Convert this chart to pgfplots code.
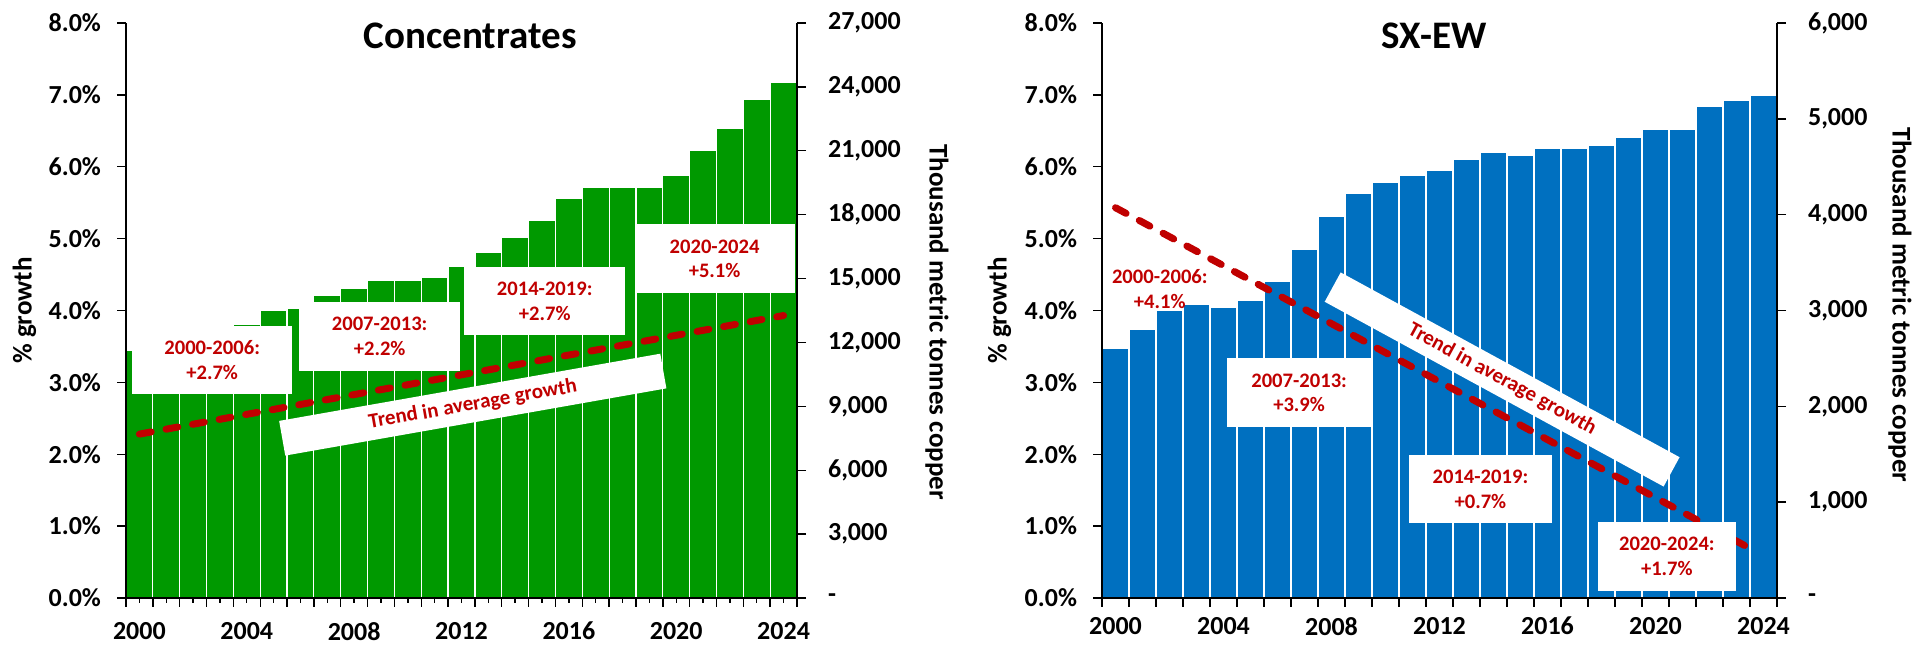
\documentclass[border=0pt]{standalone}
\usepackage{fontspec}
\setmainfont{Carlito}
\usepackage{pgfplots}
\pgfplotsset{compat=1.18}
\definecolor{cgreen}{HTML}{009900}
\definecolor{cblue}{HTML}{0070C0}
\definecolor{cred}{HTML}{C00000}
\newcommand{\tickfont}{\bfseries\fontsize{13}{13}\selectfont}
\newcommand{\labfont}{\bfseries\fontsize{13.5}{13.5}\selectfont}
\newcommand{\boxfont}{\bfseries\fontsize{10.3}{12.4}\selectfont}
\pgfplotsset{
  base/.style={
    scale only axis, height=287.5pt, anchor=south west,
    xmin=1999.5, xmax=2024.5,
    /pgf/number format/assume math mode=true,
    scaled y ticks=false, scaled x ticks=false,
    tick align=outside,
    axis line style={line width=0.7pt, black},
    every tick/.style={black, line width=0.7pt},
    ticklabel style={font=\tickfont},
    label style={font=\labfont},
    major tick length=4.5pt,
  },
  baraxis/.style={
    axis y line*=right, axis x line*=bottom, axis on top,
    ybar, bar width=1, ymin=0,
    xtick={1999.5,2000.5,...,2024.5}, xticklabels={},
    extra x ticks={2000,2001,...,2024},
    extra x tick labels={2000,,,,2004,,,,2008,,,,2012,,,,2016,,,,2020,,,,2024},
    extra x tick style={major tick length=#1, xticklabel style={yshift=-6pt}},
    yticklabel style={xshift=7.5pt},
  },
  pctaxis/.style={
    axis y line*=left, axis x line=none, clip=false,
    ymin=0, ymax=8, ytick={0,1,...,8},
    yticklabel={\pgfmathprintnumber[fixed,fixed zerofill,precision=1]{\tick}\%},
    yticklabel style={xshift=-4.5pt},
    ylabel={\% growth},
  },
  trend/.style={cred, line width=3.5pt, dash pattern=on 6pt off 7.5pt, line cap=round},
}
\begin{document}
\begin{tikzpicture}
\useasboundingbox (0,0) rectangle (956pt,323pt);
% ---------------- Concentrates ----------------
\begin{axis}[base, baraxis=2.5pt, at={(63pt,24pt)}, width=335.5pt,
  ymax=27000, ytick={0,3000,...,27000},
  yticklabels={{-},{3,000},{6,000},{9,000},{12,000},{15,000},{18,000},{21,000},{24,000},{27,000}},
  ylabel={Thousand metric tonnes copper},
  every axis y label/.style={at={(axis description cs:1.2085,0.48)}, rotate=-90, anchor=center, font=\labfont}]
\addplot[fill=cgreen, draw=white, line width=0.6pt] coordinates {
(2000,11620) (2001,11900) (2002,12100) (2003,12400) (2004,12840)
(2005,13515) (2006,13610) (2007,14220) (2008,14535) (2009,14910)
(2010,14910) (2011,15035) (2012,15550) (2013,16210) (2014,16920)
(2015,17730) (2016,18750) (2017,19270) (2018,19300) (2019,19300)
(2020,19865) (2021,21040) (2022,22045) (2023,23420) (2024,24205)};
\end{axis}
\begin{axis}[base, pctaxis, at={(63pt,24pt)}, width=335.5pt,
  every axis y label/.style={at={(axis description cs:-0.1513,0.5)}, rotate=90, anchor=center, font=\labfont}]
\addplot[trend] coordinates {(2000,2.28) (2024,3.93)};
\node[font=\bfseries\fontsize{19.5}{19.5}\selectfont, anchor=base] at (axis description cs:0.513,0.955) {Concentrates};
\node[fill=white, text=cred, font=\boxfont, align=center, minimum width=80pt, minimum height=34pt, inner sep=0pt] at (axis cs:2002.71,3.305) {2000-2006:\\+2.7\%};
\node[fill=white, text=cred, font=\boxfont, align=center, minimum width=80.5pt, minimum height=34.5pt, inner sep=0pt] at (axis cs:2008.95,3.64) {2007-2013:\\+2.2\%};
\node[fill=white, text=cred, font=\boxfont, align=center, minimum width=80.5pt, minimum height=33.7pt, inner sep=0pt] at (axis cs:2015.1,4.13) {2014-2019:\\+2.7\%};
\node[fill=white, text=cred, font=\boxfont, align=center, minimum width=80pt, minimum height=34.5pt, inner sep=0pt] at (axis cs:2021.43,4.72) {2020-2024\\+5.1\%};
\node[fill=white, text=cred, font=\bfseries\fontsize{10.5}{12}\selectfont, rotate=10, minimum width=193.5pt, minimum height=17.6pt, inner sep=0pt] at (axis cs:2012.42,2.69) {Trend in average growth};
\end{axis}
% ---------------- SX-EW ----------------
\begin{axis}[base, baraxis=0pt, at={(551pt,24pt)}, width=337.5pt,
  ymax=6000, ytick={0,1000,...,6000},
  yticklabels={{-},{1,000},{2,000},{3,000},{4,000},{5,000},{6,000}},
  ylabel={Thousand metric tonnes copper},
  every axis y label/.style={at={(axis description cs:1.182,0.51)}, rotate=-90, anchor=center, font=\labfont}]
\addplot[fill=cblue, draw=white, line width=0.6pt] coordinates {
(2000,2601) (2001,2802) (2002,3003) (2003,3062) (2004,3028)
(2005,3104) (2006,3302) (2007,3642) (2008,3983) (2009,4222)
(2010,4340) (2011,4410) (2012,4462) (2013,4576) (2014,4646)
(2015,4618) (2016,4694) (2017,4694) (2018,4719) (2019,4806)
(2020,4889) (2021,4889) (2022,5132) (2023,5190) (2024,5240)};
\end{axis}
\begin{axis}[base, pctaxis, at={(551pt,24pt)}, width=337.5pt,
  every axis y label/.style={at={(axis description cs:-0.152,0.5)}, rotate=90, anchor=center, font=\labfont}]
\addplot[trend] coordinates {(2000,5.43) (2023.6,0.67)};
\node[font=\bfseries\fontsize{19.5}{19.5}\selectfont, anchor=base] at (axis description cs:0.492,0.955) {SX-EW};
\node[text=cred, font=\boxfont, align=center, inner sep=0pt] at (axis cs:2001.64,4.30) {2000-2006:\\+4.1\%};
\node[fill=white, text=cred, font=\boxfont, align=center, minimum width=72.3pt, minimum height=34.3pt, inner sep=0pt] at (axis cs:2006.8,2.855) {2007-2013:\\+3.9\%};
\node[fill=white, text=cred, font=\boxfont, align=center, minimum width=71.4pt, minimum height=34.3pt, inner sep=0pt] at (axis cs:2013.515,1.515) {2014-2019:\\+0.7\%};
\node[fill=white, text=cred, font=\boxfont, align=center, minimum width=69.3pt, minimum height=34.3pt, inner sep=0pt] at (axis cs:2020.42,0.575) {2020-2024:\\+1.7\%};
\node[fill=white, text=cred, font=\bfseries\fontsize{10.5}{12}\selectfont, rotate=-28.6, minimum width=193pt, minimum height=16.7pt, inner sep=0pt] at (axis cs:2014.32,3.04) {Trend in average growth};
\end{axis}
\end{tikzpicture}
\end{document}
